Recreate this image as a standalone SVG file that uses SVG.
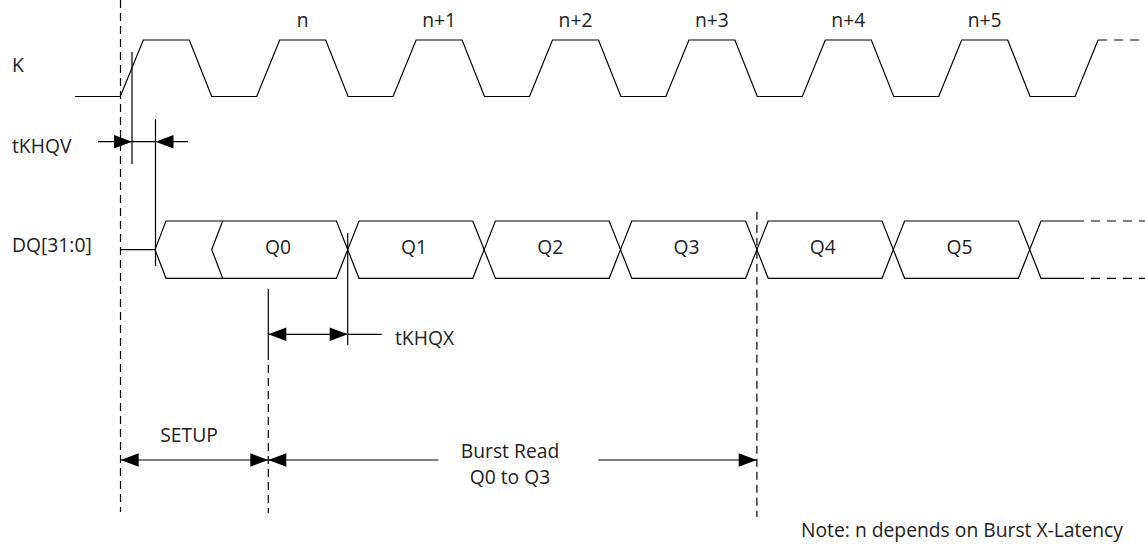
<svg xmlns="http://www.w3.org/2000/svg" width="1145" height="552" viewBox="0 0 1145 552">
<style>
.l{fill:none;stroke:#000;stroke-width:1.2}
.d{fill:none;stroke:#000;stroke-width:1.2;stroke-dasharray:8 5}
.dh{fill:none;stroke:#000;stroke-width:1.2;stroke-dasharray:9 7}
.a{fill:#000}
text{font-family:"Open Sans","Liberation Sans",sans-serif;font-size:19.3px;fill:#222}
.m{text-anchor:middle}
</style>
<rect width="1145" height="552" fill="#fff"/>
<g id="labels">
<text x="12" y="72.3">K</text>
<text x="12" y="152.5">tKHQV</text>
<text x="12" y="252.3">DQ[31:0]</text>
<text class="m" x="302.7" y="26.5">n</text>
<text class="m" x="439.1" y="26.5">n+1</text>
<text class="m" x="575.5" y="26.5">n+2</text>
<text class="m" x="711.9" y="26.5">n+3</text>
<text class="m" x="848.3" y="26.5">n+4</text>
<text class="m" x="984.7" y="26.5">n+5</text>
<text x="1123" y="536.5" text-anchor="end">Note: n depends on Burst X-Latency</text>
</g>
<g id="K">
<path class="l" d="M75,96.5 L120.3,96.5 L143.3,40 L189.3,40 L211.7,96.5 L256.7,96.5 L279.7,40 L325.7,40 L348.1,96.5 L393.1,96.5 L416.1,40 L462.1,40 L484.5,96.5 L529.5,96.5 L552.5,40 L598.5,40 L620.9,96.5 L665.9,96.5 L688.9,40 L734.9,40 L757.3,96.5 L802.3,96.5 L825.3,40 L871.3,40 L893.7,96.5 L938.7,96.5 L961.7,40 L1007.7,40 L1030.1,96.5 L1075.1,96.5 L1098.1,40"/>
<path class="dh" d="M1098.1,40 L1145,40"/>
</g>
<g id="DQ">
<path class="l" d="M120.5,249.6 L155,249.6"/>
<path class="l" d="M155,249.6 L166,221 L336.4,221 L347.7,249.6 L336.4,278.3 L166,278.3 Z"/>
<path class="l" d="M222.7,221 L211.7,249.6 L222.7,278.3"/>
<path class="l" d="M347.7,249.6 L359,221 L472.8,221 L484.1,249.6 L472.8,278.3 L359,278.3 Z"/>
<path class="l" d="M484.1,249.6 L495.4,221 L609.2,221 L620.5,249.6 L609.2,278.3 L495.4,278.3 Z"/>
<path class="l" d="M620.5,249.6 L631.8,221 L745.6,221 L756.9,249.6 L745.6,278.3 L631.8,278.3 Z"/>
<path class="l" d="M756.9,249.6 L768.2,221 L882,221 L893.3,249.6 L882,278.3 L768.2,278.3 Z"/>
<path class="l" d="M893.3,249.6 L904.6,221 L1018.4,221 L1029.7,249.6 L1018.4,278.3 L904.6,278.3 Z"/>
<path class="l" d="M1075,221 L1041,221 L1029.7,249.6 L1041,278.3 L1075,278.3"/>
<path class="dh" d="M1075,221 L1145,221 M1075,278.3 L1145,278.3"/>
<text class="m" x="278" y="254">Q0</text>
<text class="m" x="414" y="254">Q1</text>
<text class="m" x="550.3" y="254">Q2</text>
<text class="m" x="686.5" y="254">Q3</text>
<text class="m" x="822.7" y="254">Q4</text>
<text class="m" x="959.5" y="254">Q5</text>
</g>
<g id="tKHQV">
<path class="l" d="M132,52 L132,164 M155.5,119 L155.5,266 M98,141.7 L188,141.7"/>
<polygon class="a" points="114,135 132,141.7 114,148.4"/>
<polygon class="a" points="155.5,141.7 173.5,135 173.5,148.4"/>
</g>
<g id="tKHQX">
<path class="l" d="M268.3,289 L268.3,352 M347.7,233 L347.7,345 M268.3,334.3 L381.7,334.3"/>
<polygon class="a" points="268.3,334.3 286.3,327.6 286.3,341"/>
<polygon class="a" points="347.7,334.3 329.7,327.6 329.7,341"/>
<text x="395" y="345">tKHQX</text>
</g>
<g id="guides">
<path class="d" d="M120.5,0 L120.5,512"/>
<path class="d" d="M268.3,352 L268.3,513"/>
<path class="d" d="M756.9,211.7 L756.9,517"/>
</g>
<g id="SETUP">
<path class="l" d="M120.7,460 L268.3,460"/>
<polygon class="a" points="120.7,460 138.7,453.3 138.7,466.7"/>
<polygon class="a" points="268.3,460 250.3,453.3 250.3,466.7"/>
<text class="m" x="189" y="441.5">SETUP</text>
</g>
<g id="burst">
<path class="l" d="M268.3,460 L438.3,460 M598.3,460 L756.7,460"/>
<polygon class="a" points="268.3,460 286.3,453.3 286.3,466.7"/>
<polygon class="a" points="756.7,460 738.7,453.3 738.7,466.7"/>
<text class="m" x="510" y="457.5">Burst Read</text>
<text class="m" x="510" y="484">Q0 to Q3</text>
</g>
</svg>
